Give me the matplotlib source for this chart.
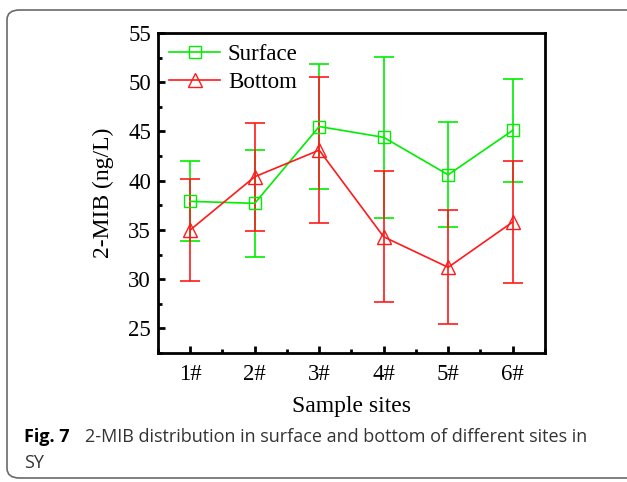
import matplotlib
matplotlib.use("Agg")
import matplotlib.pyplot as plt
from matplotlib.patches import FancyBboxPatch
from matplotlib.lines import Line2D
from matplotlib.ticker import MultipleLocator

sites = ["1#", "2#", "3#", "4#", "5#", "6#"]
surface = [37.9, 37.7, 45.5, 44.4, 40.6, 45.1]
surface_err = [4.05, 5.4, 6.35, 8.15, 5.35, 5.2]
bottom = [35.0, 40.4, 43.1, 34.3, 31.2, 35.8]
bottom_err = [5.2, 5.5, 7.4, 6.65, 5.8, 6.2]

serif = ["Liberation Serif", "DejaVu Serif"]
green = "#00EE00"
red = "#FF1A1A"
fs = 16.5

fig = plt.figure(figsize=(6.27, 4.82), dpi=100)
ax = fig.add_axes([0.252, 0.2676, 0.617, 0.664])

x = list(range(1, len(sites) + 1))
ax.errorbar(x, surface, yerr=surface_err, color=green, marker="s", markersize=8.5,
            markerfacecolor="none", markeredgecolor=green, capsize=7.2, lw=1.2,
            elinewidth=1.2, capthick=1.2)
ax.errorbar(x, bottom, yerr=bottom_err, color=red, marker="^", markersize=10.5,
            markerfacecolor="none", markeredgecolor=red, capsize=7.2, lw=1.2,
            elinewidth=1.2, capthick=1.2)

ax.set_xlim(0.5, 6.5)
ax.set_ylim(22.5, 55)
ax.set_xticks(x)
ax.set_xticklabels(sites, fontfamily=serif, fontsize=fs)
ax.xaxis.set_minor_locator(MultipleLocator(0.5))
ax.yaxis.set_major_locator(MultipleLocator(5))
ax.yaxis.set_minor_locator(MultipleLocator(2.5))
for lab in ax.get_yticklabels():
    lab.set_fontfamily(serif)
    lab.set_fontsize(fs)
ax.tick_params(which="both", direction="in", top=False, right=False, width=2)
ax.tick_params(which="major", length=5)
ax.tick_params(which="minor", length=3)
ax.tick_params(axis="x", which="major", pad=8)
ax.tick_params(axis="y", which="major", pad=5)
for s in ax.spines.values():
    s.set_linewidth(2)

ax.set_xlabel("Sample sites", fontfamily=serif, fontsize=fs + 0.5, labelpad=8)
ax.set_ylabel("2-MIB (ng/L)", fontfamily=serif, fontsize=fs + 0.5, labelpad=10)

handles = [
    Line2D([], [], color=green, marker="s", markersize=8.5, markerfacecolor="none", lw=1.2),
    Line2D([], [], color=red, marker="^", markersize=10.5, markerfacecolor="none", lw=1.2),
]
ax.legend(handles, ["Surface", "Bottom"], loc="upper left", frameon=False,
          prop={"family": serif, "size": fs}, handlelength=2.2, borderaxespad=0.3,
          borderpad=0.2, handletextpad=0.35, labelspacing=0.3)

frame = FancyBboxPatch((7 / 627, 4 / 482), 640 / 627, 468 / 482,
                       boxstyle="round,pad=0,rounding_size=0.02",
                       transform=fig.transFigure, fill=False, edgecolor="#6a6a6a", lw=1.2,
                       clip_on=False)
fig.patches.append(frame)

fig.text(24 / 627, 1 - 442 / 482, "Fig. 7", fontfamily="Open Sans", fontweight="bold",
         fontsize=13, va="baseline", ha="left")
fig.text(85 / 627, 1 - 442 / 482, "2-MIB distribution in surface and bottom of different sites in",
         fontfamily="Open Sans", fontsize=13, va="baseline", ha="left", color="#333333")
fig.text(24 / 627, 1 - 468 / 482, "SY", fontfamily="Open Sans", fontsize=13,
         va="baseline", ha="left", color="#333333")

fig.savefig("out.png", dpi=100)
